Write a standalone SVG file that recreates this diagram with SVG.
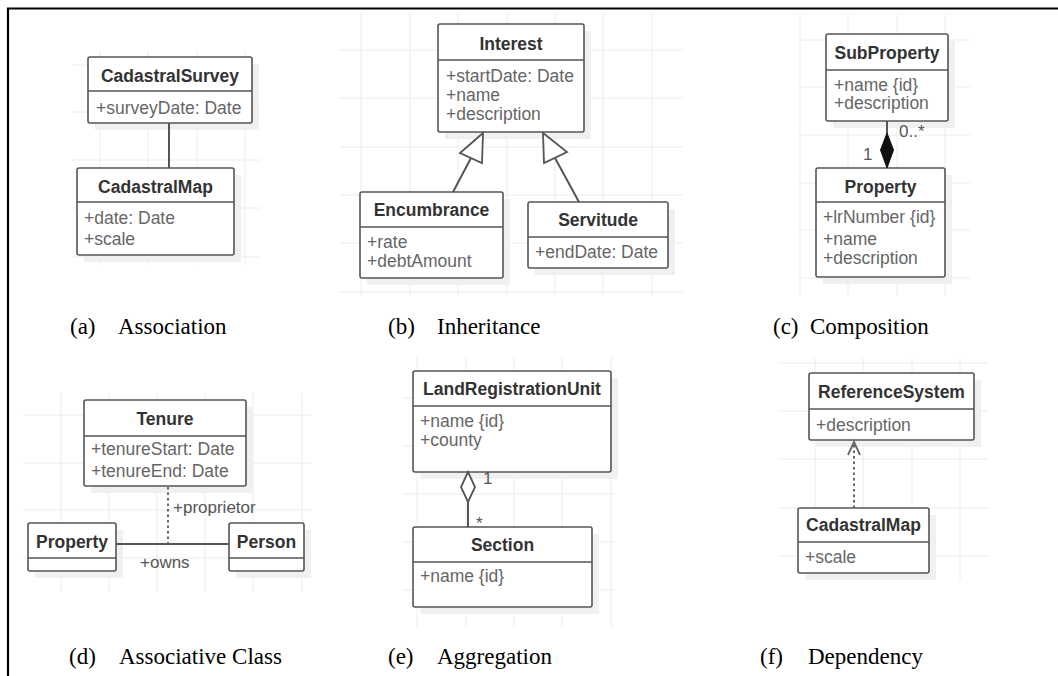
<svg xmlns="http://www.w3.org/2000/svg" width="1058" height="676" viewBox="0 0 1058 676">
<defs>
<style>
.grid{stroke:#ececec;stroke-width:1;fill:none}
.shadow{fill:#f0f0f0;stroke:none}
.box{fill:#ffffff;stroke:#555555;stroke-width:1.6}
.div{stroke:#555555;stroke-width:1.6}
.title{font-family:"Liberation Sans",Arial,sans-serif;font-size:17.5px;font-weight:bold;fill:#333333;text-anchor:middle}
.attr{font-family:"Liberation Sans",Arial,sans-serif;font-size:17.5px;fill:#666666}
.lbl{font-family:"Liberation Sans",Arial,sans-serif;font-size:17px;fill:#555555}
.line{stroke:#555555;stroke-width:2;fill:none}
.dot{stroke:#666666;stroke-width:2;fill:none;stroke-dasharray:2.5 3}
.cap{font-family:"Liberation Serif","Times New Roman",serif;font-size:23px;fill:#000000}
</style>
</defs>
<rect x="0" y="0" width="1058" height="676" fill="#ffffff"/>
<path d="M8,676 V8.5 H1058" stroke="#000000" stroke-width="2.2" fill="none"/>

<g id="grids">
<path class="grid" d="M100,50V265M148,50V265M197,50V265M245,50V265M72,65H260M72,112H260M72,160H260M72,208H260M72,257H260"/>
<path class="grid" d="M361,13V295M410,13V295M458,13V295M507,13V295M555,13V295M603,13V295M652,13V295M340,50H683M340,98H683M340,147H683M340,195H683M340,243H683M340,292H683"/>
<path class="grid" d="M800,15V295M848,15V295M897,15V295M945,15V295M798,40H970M798,87H970M798,135H970M798,183H970M798,230H970M798,278H970"/>
<path class="grid" d="M61,393V592M109,393V592M157,393V592M205,393V592M253,393V592M302,393V592M23,415H312M23,463H312M23,510H312M23,558H312"/>
<path class="grid" d="M417,357V627M466,357V627M514,357V627M562,357V627M611,357V627M404,398H616M404,446H616M404,494H616M404,542H616M404,590H616"/>
<path class="grid" d="M815,358V580M863,358V580M912,358V580M960,358V580M778,363H988M778,411H988M778,459H988M778,508H988M778,556H988"/>
</g>

<g id="cadastralSurvey">
<rect class="shadow" x="95" y="64" width="164" height="66"/>
<rect class="box" x="88" y="57" width="164" height="66" rx="2"/>
<line class="div" x1="88" y1="91" x2="252" y2="91"/>
<text class="title" x="170" y="82">CadastralSurvey</text>
<text class="attr" x="96" y="114">+surveyDate: Date</text>
</g>
<g id="cadastralMapA">
<rect class="shadow" x="84" y="175" width="157" height="87"/>
<rect class="box" x="77" y="168" width="157" height="87" rx="2"/>
<line class="div" x1="77" y1="202" x2="234" y2="202"/>
<text class="title" x="155.5" y="193">CadastralMap</text>
<text class="attr" x="84" y="224">+date: Date</text>
<text class="attr" x="84" y="245">+scale</text>
</g>

<g id="interest">
<rect class="shadow" x="445" y="31" width="146" height="108"/>
<rect class="box" x="438" y="24" width="146" height="108" rx="2"/>
<line class="div" x1="438" y1="60" x2="584" y2="60"/>
<text class="title" x="511" y="50">Interest</text>
<text class="attr" x="446" y="82">+startDate: Date</text>
<text class="attr" x="446" y="101">+name</text>
<text class="attr" x="446" y="120">+description</text>
</g>
<g id="encumbrance">
<rect class="shadow" x="367" y="199" width="143" height="86"/>
<rect class="box" x="360" y="192" width="143" height="86" rx="2"/>
<line class="div" x1="360" y1="227" x2="503" y2="227"/>
<text class="title" x="431.5" y="216">Encumbrance</text>
<text class="attr" x="367" y="248">+rate</text>
<text class="attr" x="367" y="267">+debtAmount</text>
</g>
<g id="servitude">
<rect class="shadow" x="535" y="209" width="140" height="66"/>
<rect class="box" x="528" y="202" width="140" height="66" rx="2"/>
<line class="div" x1="528" y1="237" x2="668" y2="237"/>
<text class="title" x="598" y="226">Servitude</text>
<text class="attr" x="535" y="258">+endDate: Date</text>
</g>

<g id="subProperty">
<rect class="shadow" x="833" y="41" width="122" height="87"/>
<rect class="box" x="826" y="34" width="122" height="87" rx="2"/>
<line class="div" x1="826" y1="70" x2="948" y2="70"/>
<text class="title" x="887" y="59">SubProperty</text>
<text class="attr" x="834" y="91">+name {id}</text>
<text class="attr" x="834" y="109">+description</text>
</g>
<g id="propertyC">
<rect class="shadow" x="823" y="175" width="129" height="109"/>
<rect class="box" x="816" y="168" width="129" height="109" rx="2"/>
<line class="div" x1="816" y1="202" x2="945" y2="202"/>
<text class="title" x="880.5" y="193">Property</text>
<text class="attr" x="823" y="223">+lrNumber {id}</text>
<text class="attr" x="823" y="245">+name</text>
<text class="attr" x="823" y="264">+description</text>
</g>

<g id="tenure">
<rect class="shadow" x="91" y="407" width="162" height="86"/>
<rect class="box" x="84" y="400" width="162" height="86" rx="2"/>
<line class="div" x1="84" y1="436" x2="246" y2="436"/>
<text class="title" x="165" y="425">Tenure</text>
<text class="attr" x="91" y="455">+tenureStart: Date</text>
<text class="attr" x="91" y="477">+tenureEnd: Date</text>
</g>
<g id="propertyD">
<rect class="shadow" x="35" y="530" width="88" height="48"/>
<rect class="box" x="28" y="523" width="88" height="48" rx="2"/>
<line class="div" x1="28" y1="558" x2="116" y2="558"/>
<text class="title" x="72" y="548">Property</text>
</g>
<g id="person">
<rect class="shadow" x="236" y="530" width="75" height="48"/>
<rect class="box" x="229" y="523" width="75" height="48" rx="2"/>
<line class="div" x1="229" y1="558" x2="304" y2="558"/>
<text class="title" x="266.5" y="548">Person</text>
</g>

<g id="landRegistrationUnit">
<rect class="shadow" x="420" y="378" width="198" height="101"/>
<rect class="box" x="413" y="371" width="198" height="101" rx="2"/>
<line class="div" x1="413" y1="406" x2="611" y2="406"/>
<text class="title" x="512" y="395">LandRegistrationUnit</text>
<text class="attr" x="420" y="427">+name {id}</text>
<text class="attr" x="420" y="446">+county</text>
</g>
<g id="section">
<rect class="shadow" x="420" y="534" width="179" height="80"/>
<rect class="box" x="413" y="527" width="179" height="80" rx="2"/>
<line class="div" x1="413" y1="562" x2="592" y2="562"/>
<text class="title" x="502.5" y="551">Section</text>
<text class="attr" x="420" y="582">+name {id}</text>
</g>

<g id="referenceSystem">
<rect class="shadow" x="816" y="380" width="165" height="67"/>
<rect class="box" x="809" y="373" width="165" height="67" rx="2"/>
<line class="div" x1="809" y1="409" x2="974" y2="409"/>
<text class="title" x="891.5" y="398">ReferenceSystem</text>
<text class="attr" x="816" y="431">+description</text>
</g>
<g id="cadastralMapF">
<rect class="shadow" x="805" y="515" width="131" height="65"/>
<rect class="box" x="798" y="508" width="131" height="65" rx="2"/>
<line class="div" x1="798" y1="542" x2="929" y2="542"/>
<text class="title" x="863.5" y="531">CadastralMap</text>
<text class="attr" x="805" y="563">+scale</text>
</g>

<g id="connectors">
<line class="line" x1="169" y1="123" x2="169" y2="168"/>
<line class="line" x1="453" y1="192" x2="471" y2="158"/>
<polygon points="483,133 460,153 482,163" fill="#ffffff" stroke="#555555" stroke-width="1.8"/>
<line class="line" x1="579" y1="202" x2="555" y2="158"/>
<polygon points="543,133 544,163 567,152" fill="#ffffff" stroke="#555555" stroke-width="1.8"/>
<line class="line" x1="887" y1="121" x2="887" y2="134"/>
<polygon points="887,133 893.5,150 887,168 880.5,150" fill="#111111" stroke="#111111" stroke-width="1"/>
<text class="lbl" x="899" y="137">0..*</text>
<text class="lbl" x="863" y="160">1</text>
<line class="line" x1="116" y1="544" x2="229" y2="544"/>
<line class="dot" x1="168" y1="487" x2="168" y2="544"/>
<text class="lbl" x="173" y="513">+proprietor</text>
<text class="lbl" x="140" y="568">+owns</text>
<polygon points="468,472 475,487 468,502 461,487" fill="#ffffff" stroke="#555555" stroke-width="1.8"/>
<line class="line" x1="468" y1="502" x2="468" y2="527"/>
<text class="lbl" x="483" y="484">1</text>
<text class="lbl" x="476" y="529">*</text>
<line class="dot" x1="854" y1="508" x2="854" y2="444"/>
<polyline points="848,455 854,442 860,455" fill="none" stroke="#666666" stroke-width="1.8"/>
</g>

<g id="captions">
<text class="cap" x="70" y="334">(a)</text><text class="cap" x="118" y="334">Association</text>
<text class="cap" x="388" y="334">(b)</text><text class="cap" x="437" y="334">Inheritance</text>
<text class="cap" x="773" y="334">(c)</text><text class="cap" x="810" y="334">Composition</text>
<text class="cap" x="69" y="664">(d)</text><text class="cap" x="119" y="664">Associative Class</text>
<text class="cap" x="388" y="664">(e)</text><text class="cap" x="437" y="664">Aggregation</text>
<text class="cap" x="760" y="664">(f)</text><text class="cap" x="808" y="664">Dependency</text>
</g>
</svg>
